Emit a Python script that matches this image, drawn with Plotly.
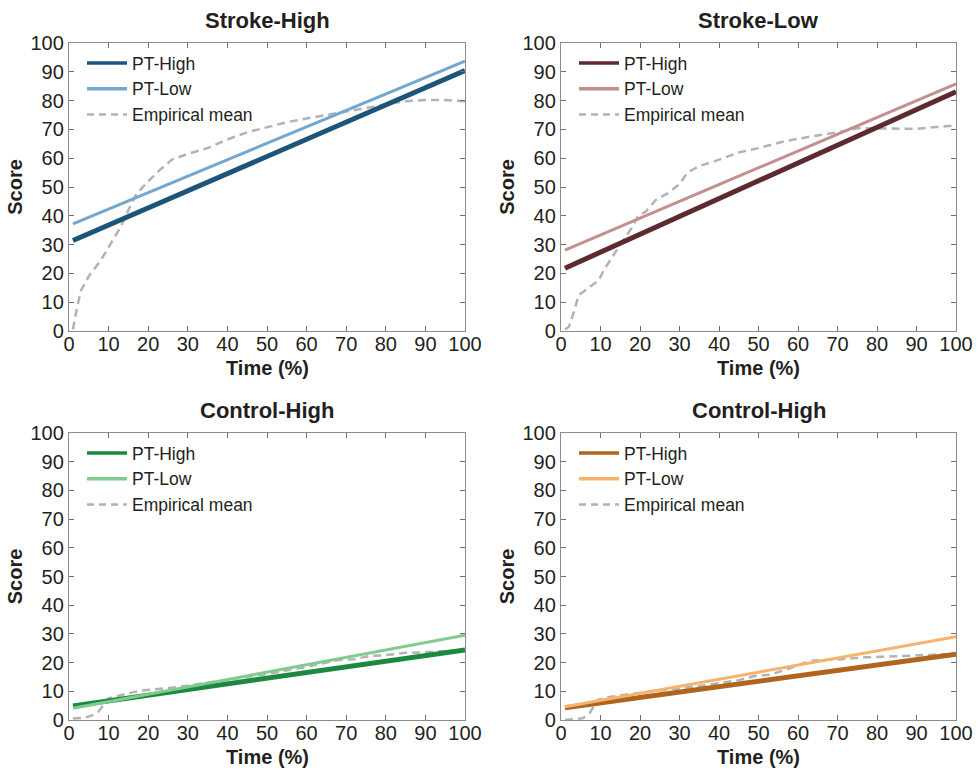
import plotly.graph_objects as go

# ---------------- data ----------------
panel_titles = ["Stroke-High", "Stroke-Low", "Control-High", "Control-High"]
series_names = ["PT-High", "PT-Low", "Empirical mean"]
x_ticks = [0, 10, 20, 30, 40, 50, 60, 70, 80, 90, 100]
y_ticks = [0, 10, 20, 30, 40, 50, 60, 70, 80, 90, 100]
x_title = "Time (%)"
y_title = "Score"

line_x = [1, 100]
sh_pt_high = [31.4, 90.4]
sh_pt_low = [37.2, 93.7]
sl_pt_high = [21.8, 83.1]
sl_pt_low = [28.1, 85.8]
ch_pt_high = [4.9, 24.4]
ch_pt_low = [4.1, 29.5]
ch2_pt_high = [4.3, 22.9]
ch2_pt_low = [4.6, 29.0]

sh_emp_x = [1, 2, 3, 5, 8, 10, 13, 15, 17, 20, 23, 26, 30, 35, 40, 45, 50, 55, 60, 65, 70, 75, 80, 85, 90, 95, 100]
sh_emp_y = [0.5, 8, 14, 19, 24.5, 29, 36, 42, 47.5, 52, 56, 59.5, 61.5, 63.5, 66.5, 69, 70.8, 72.5, 73.8, 75, 76, 77.4, 78.8, 79.8, 80.2, 80.2, 79.8]

sl_emp_x = [1, 2, 3, 4.5, 7, 9.5, 11, 13, 15, 18, 19.5, 21.5, 24, 27, 30, 32, 35, 39, 45, 50, 56, 63, 70, 75, 80, 85, 90, 95, 100]
sl_emp_y = [0.5, 1.5, 5.5, 12.5, 15, 17.5, 21.5, 26, 30, 36, 40, 41.5, 45.5, 47.8, 51, 55, 57.3, 59, 62, 63.5, 65.7, 67.5, 69, 70.4, 70.4, 70.4, 70.2, 70.8, 71.4]

ch_emp_x = [1, 4, 6, 7.5, 10, 14, 18, 22, 27, 31, 40, 50, 60, 68, 72, 76, 80, 85, 90, 95, 100]
ch_emp_y = [0.5, 0.8, 1.7, 3, 7.5, 9, 10.2, 10.7, 11.4, 12.2, 14, 16, 18.5, 20.9, 21.2, 22.3, 22.6, 23.4, 23.6, 24, 24.4]

ch2_emp_x = [1, 5.5, 7.2, 9.3, 12.6, 20, 30, 34, 37, 40, 45, 49, 53, 57, 63, 71, 76, 81, 85, 90, 95, 100]
ch2_emp_y = [0, 0.6, 2.3, 7, 8.1, 9.5, 11, 11.6, 12.2, 12.8, 13.9, 15.3, 15.8, 17.6, 20.6, 21.2, 21.8, 22, 22.3, 22.6, 22.8, 23]

panels = [
    (sh_pt_high, sh_pt_low, sh_emp_x, sh_emp_y, "#1d5479", "#72a8cf"),
    (sl_pt_high, sl_pt_low, sl_emp_x, sl_emp_y, "#5c2a2f", "#c58e8f"),
    (ch_pt_high, ch_pt_low, ch_emp_x, ch_emp_y, "#1b8a40", "#80cb8f"),
    (ch2_pt_high, ch2_pt_low, ch2_emp_x, ch2_emp_y, "#b0651f", "#f6b36b"),
]

# ---------------- layout geometry ----------------
W, H = 980, 770
x_doms = [[69 / W, 465 / W], [561 / W, 956 / W], [69 / W, 465 / W], [561 / W, 956 / W]]
y_doms = [[1 - 331 / H, 1 - 43 / H], [1 - 331 / H, 1 - 43 / H], [1 - 720 / H, 1 - 433 / H], [1 - 720 / H, 1 - 433 / H]]
FONT = "Liberation Sans, Arial, sans-serif"
EMP_COLOR = "#b3b3b3"

fig = go.Figure()
layout = dict(
    template="none",
    width=W, height=H, margin=dict(l=0, r=0, t=0, b=0, autoexpand=False),
    paper_bgcolor="white", plot_bgcolor="white",
    font=dict(family=FONT, color="#231f20"),
    showlegend=True,
)
annotations = []

for i, (hi, lo, ex, ey, c_hi, c_lo) in enumerate(panels):
    k = "" if i == 0 else str(i + 1)
    xa, ya = "x" + k, "y" + k
    lg = "legend" + k
    # empirical drawn first so model lines sit on top
    fig.add_trace(go.Scatter(x=ex, y=ey, mode="lines", name=series_names[2], showlegend=False,
                             line=dict(color=EMP_COLOR, width=2.5, dash="8px,5px"),
                             xaxis=xa, yaxis=ya, legend=lg))
    fig.add_trace(go.Scatter(x=line_x, y=hi, mode="lines", name=series_names[0], showlegend=False,
                             line=dict(color=c_hi, width=5), xaxis=xa, yaxis=ya, legend=lg))
    fig.add_trace(go.Scatter(x=line_x, y=lo, mode="lines", name=series_names[1], showlegend=False,
                             line=dict(color=c_lo, width=3), xaxis=xa, yaxis=ya, legend=lg))
    # legend entries (legend-only keys with the thinner sample lines of the original)
    for rank, (nm, col, wd, ds) in enumerate([(series_names[0], c_hi, 3.5, "solid"),
                                              (series_names[1], c_lo, 3.5, "solid"),
                                              (series_names[2], EMP_COLOR, 2.5, "7px,5px")]):
        fig.add_trace(go.Scatter(x=[None], y=[None], mode="lines", name=nm, legendrank=rank + 1,
                                 line=dict(color=col, width=wd, dash=ds), xaxis=xa, yaxis=ya,
                                 legend=lg, hoverinfo="skip"))
    axcommon = dict(showgrid=False, zeroline=False, showline=True, linecolor="#8c8c8c", linewidth=1.3,
                    mirror="ticks", ticks="inside", ticklen=5, tickcolor="#6e6e6e", tickwidth=1,
                    automargin=False,
                    tickfont=dict(size=20, family=FONT, color="#231f20"))
    layout["xaxis" + k] = dict(axcommon, domain=x_doms[i], anchor=ya, range=[0, 100],
                               ticklabelstandoff=-5,
                               tickvals=x_ticks, ticktext=[str(t) for t in x_ticks])
    layout["yaxis" + k] = dict(axcommon, domain=y_doms[i], anchor=xa, range=[0, 100],
                               tickvals=y_ticks, ticktext=[str(t) for t in y_ticks],
                               title=dict(text="<b>" + y_title + "</b>", font=dict(size=20, family=FONT), standoff=2))
    layout[lg] = dict(x=x_doms[i][0] + 13 / W, y=y_doms[i][1] - 2 / H, xanchor="left", yanchor="top",
                      bgcolor="rgba(0,0,0,0)", borderwidth=0, traceorder="normal",
                      font=dict(size=17.5, family=FONT, color="#231f20"),
                      tracegroupgap=0, itemwidth=40)
    annotations.append(dict(text="<b>" + panel_titles[i] + "</b>", xref="paper", yref="paper",
                            x=(x_doms[i][0] + x_doms[i][1]) / 2, y=y_doms[i][1] + 23 / H,
                            xanchor="center", yanchor="middle", showarrow=False,
                            font=dict(size=22, family=FONT, color="#231f20")))
    annotations.append(dict(text="<b>" + x_title + "</b>", xref="paper", yref="paper",
                            x=(x_doms[i][0] + x_doms[i][1]) / 2, y=y_doms[i][0] - 37 / H,
                            xanchor="center", yanchor="middle", showarrow=False,
                            font=dict(size=20, family=FONT, color="#231f20")))

layout["annotations"] = annotations
fig.update_layout(**layout)
fig.write_html("out.html")
